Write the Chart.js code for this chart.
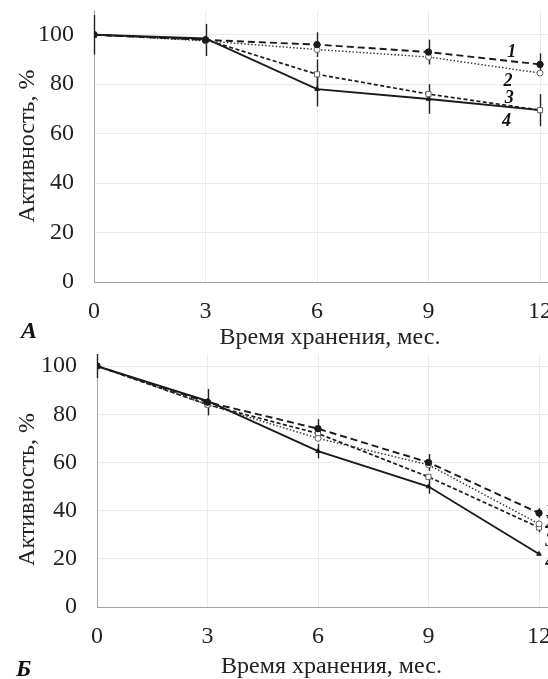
<!DOCTYPE html>
<html><head><meta charset="utf-8">
<script src="https://cdn.jsdelivr.net/npm/chart.js@4"></script>
<style>
html,body{margin:0;padding:0;background:#fff;overflow:hidden;width:548px;height:679px;position:relative;}
canvas{position:absolute;left:0;}
#cA{top:0}
#cB{top:340px}
.panel{position:absolute;font:italic bold 24px "Liberation Serif",serif;color:#111;line-height:1;}
</style></head><body>
<canvas id="cA" width="566" height="350"></canvas>
<canvas id="cB" width="566" height="339"></canvas>
<div class="panel" style="left:21px;top:318px">А</div>
<div class="panel" style="left:16px;top:656px">Б</div>
<script>
// ---- data ----
const months = [0, 3, 6, 9, 12];
const xTicks = [0, 3, 6, 9, 12];
const yTicks = [0, 20, 40, 60, 80, 100];
const curveLabels = ['1', '2', '3', '4'];
const xTitle = 'Время хранения, мес.';
const yTitle = 'Активность, %';

// Panel A
const a1 = [100, 97.9, 96, 93, 88];
const a2 = [100, 97.5, 94, 91, 84.5];
const a3 = [100, 98, 84, 76, 69.5];
const a4 = [100, 98.5, 78, 74, 69.5];
const aErr1 = [8, 6.5, 5, 5, 4.5];
const aErr2 = [0, 0, 0, 0, 0];
const aErr3 = [0, 0, 6, 0, 0];
const aErr4 = [0, 0, 7, 6, 6.5];

// Panel B
const b1 = [100, 85, 74, 60, 39];
const b2 = [100, 84, 70, 59, 34.5];
const b3 = [100, 84, 72, 54, 33];
const b4 = [100, 85.5, 64.7, 50, 22];
const bErr1 = [5, 5.5, 4, 3.5, 2];
const bErr2 = [0, 0, 0, 0, 0];
const bErr3 = [0, 0, 0, 0, 2];
const bErr4 = [0, 0, 3, 3, 0];

const SERIF = '"Liberation Serif", "Times New Roman", serif';
const INK = '#1a1a1a';

function mkDatasets(series) {
  const pts = s => months.map((m, i) => ({x: m, y: s[i]}));
  return [
    {label: curveLabels[0], data: pts(series[0]), borderColor: INK, borderWidth: 1.9, borderDash: [7, 4],
     pointStyle: 'circle', pointRadius: 3.2, pointBackgroundColor: INK, pointBorderColor: INK, pointBorderWidth: 1},
    {label: curveLabels[1], data: pts(series[1]), borderColor: '#333', borderWidth: 1.4, borderDash: [1.5, 2],
     pointStyle: 'circle', pointRadius: 3, pointBackgroundColor: '#fff', pointBorderColor: '#666', pointBorderWidth: 1},
    {label: curveLabels[2], data: pts(series[2]), borderColor: INK, borderWidth: 1.7, borderDash: [4, 2.5],
     pointStyle: 'rect', pointRadius: 3.6, pointBackgroundColor: '#fff', pointBorderColor: '#666', pointBorderWidth: 1},
    {label: curveLabels[3], data: pts(series[3]), borderColor: INK, borderWidth: 1.9, borderDash: [],
     pointStyle: 'triangle', pointRadius: 2.6, pointBackgroundColor: INK, pointBorderColor: INK, pointBorderWidth: 1}
  ];
}

const errorBars = {
  id: 'errorBars',
  beforeDatasetsDraw(chart, args, opts) {
    const {ctx, scales: {x, y}} = chart;
    ctx.save();
    ctx.strokeStyle = '#222';
    ctx.lineWidth = 1.4;
    opts.errors.forEach((errs, di) => {
      const vals = opts.values[di];
      errs.forEach((e, i) => {
        if (!e) return;
        const px = Math.round(x.getPixelForValue(months[i])) + 0.5;
        ctx.beginPath();
        ctx.moveTo(px, y.getPixelForValue(vals[i] + e));
        ctx.lineTo(px, y.getPixelForValue(vals[i] - e));
        ctx.stroke();
      });
    });
    ctx.restore();
  },
  afterDraw(chart, args, opts) {
    const {ctx, scales: {x, y}} = chart;
    ctx.save();
    ctx.font = 'italic bold 18px ' + SERIF;
    ctx.fillStyle = '#111';
    ctx.textAlign = opts.labelAlign;
    ctx.textBaseline = 'middle';
    curveLabels.forEach((t, i) => {
      ctx.fillText(t, x.getPixelForValue(opts.labelX[i]), y.getPixelForValue(opts.labelY[i]));
    });
    ctx.restore();
  }
};

function mkScales(xmax, ymax, yWidth, xHeight, yTitleText) {
  const tickFont = {family: SERIF, size: 24};
  return {
    x: {
      type: 'linear', min: 0, max: xmax,
      afterBuildTicks: s => { s.ticks = xTicks.map(v => ({value: v})); },
      afterFit: s => { s.paddingLeft = 0; s.paddingRight = 0; s.height = xHeight; },
      grid: {color: '#ebebeb', lineWidth: 1, drawTicks: false},
      border: {color: '#a5a5a5', width: 1},
      ticks: {padding: 15, font: tickFont, color: '#222', maxRotation: 0, autoSkip: false},
      title: {display: true, text: xTitle, font: {family: SERIF, size: 24, lineHeight: 1}, color: '#222',
              padding: {top: 0, bottom: 0}}
    },
    y: {
      type: 'linear', min: 0, max: ymax,
      afterBuildTicks: s => { s.ticks = yTicks.map(v => ({value: v})); },
      afterFit: s => { s.width = yWidth; s.paddingTop = 0; s.paddingBottom = 0; },
      grid: {color: '#ebebeb', lineWidth: 1, drawTicks: false},
      border: {color: '#a5a5a5', width: 1},
      ticks: {padding: 20, font: tickFont, color: '#222'},
      title: {display: true, text: yTitleText, font: {family: SERIF, size: 24, lineHeight: 1}, color: '#222',
              padding: {top: 16, bottom: 0}}
    }
  };
}

function mkChart(id, series, errs, xmax, ymax, yWidth, xHeight, padTop, yTitleText, labelOpts) {
  return new Chart(document.getElementById(id), {
    type: 'line',
    data: {datasets: mkDatasets(series)},
    options: {
      responsive: false, animation: false, devicePixelRatio: 1,
      layout: {padding: {top: padTop, left: 0, right: 0, bottom: 0}, autoPadding: false},
      plugins: {
        legend: {display: false}, tooltip: {enabled: false},
        errorBars: Object.assign({errors: errs, values: series}, labelOpts)
      },
      scales: mkScales(xmax, ymax, yWidth, xHeight, yTitleText)
    },
    plugins: [errorBars]
  });
}

mkChart('cA', [a1, a2, a3, a4], [aErr1, aErr2, aErr3, aErr4], 12.699, 110, 94, 68, 10, yTitle,
  {labelX: [11.24, 11.14, 11.17, 11.1], labelY: [93, 81, 74.2, 64.8], labelAlign: 'center'});
mkChart('cB', [b1, b2, b3, b4], [bErr1, bErr2, bErr3, bErr4], 12.733, 105, 97, 72, 14, yTitle + '   ',
  {labelX: [12.17, 12.17, 12.17, 12.17], labelY: [39.7, 34.7, 27.4, 18.7], labelAlign: 'left'});
</script>
</body></html>
